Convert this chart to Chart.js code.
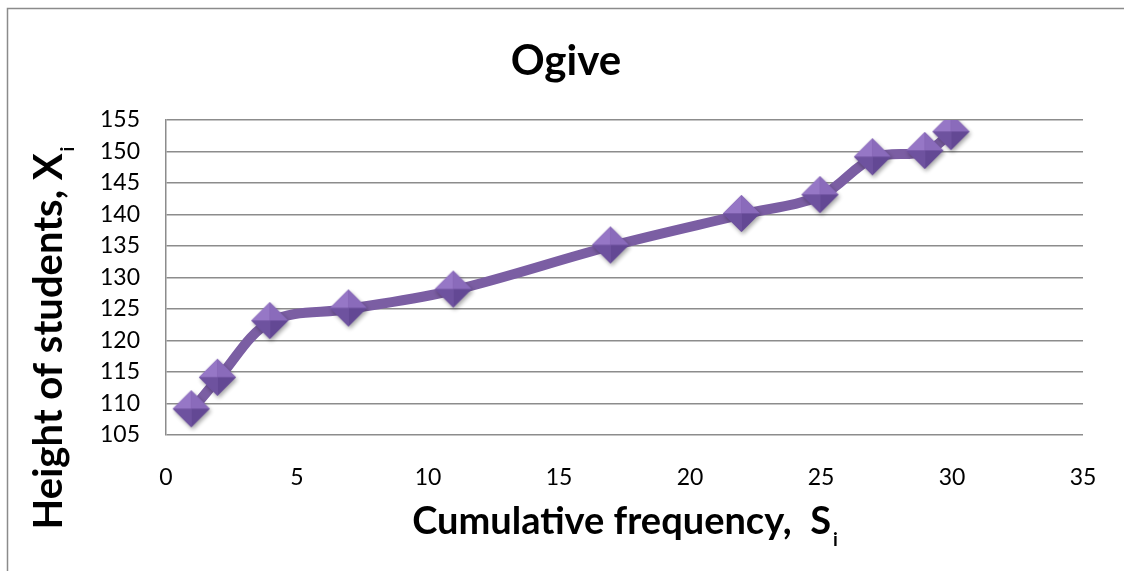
<!DOCTYPE html>
<html>
<head>
<meta charset="utf-8">
<script src="https://cdn.jsdelivr.net/npm/chart.js@4.4.1/dist/chart.umd.min.js"></script>
<style>
  html, body { margin: 0; padding: 0; background: #fff; }
  #wrap { width: 1124px; height: 571px; position: relative; }
</style>
</head>
<body>
<div id="wrap"><canvas id="c" width="1124" height="571"></canvas></div>
<script>
// ---- data ----
const cumFreq = [1, 2, 4, 7, 11, 17, 22, 25, 27, 29, 30];
const heights = [109, 114, 123, 125, 128, 135, 140, 143, 149, 150, 153];
const xTickValues = [0, 5, 10, 15, 20, 25, 30, 35];
const yTickValues = [105, 110, 115, 120, 125, 130, 135, 140, 145, 150, 155];
const chartTitle = 'Ogive';
const xTitle = ['Cumulative frequency,  S', 'i'];
const yTitle = ['Height of students, X', 'i'];

const FONT = 'Lato, Carlito, "Open Sans", sans-serif';
const GRID = '#8c8c8c';

// bevelled diamond marker
function makeDiamond(r) {
  const size = Math.ceil(r * 2 + 12);
  const cv = document.createElement('canvas');
  cv.width = size; cv.height = size;
  const g = cv.getContext('2d');
  const c = size / 2 - 1;
  const T = [c, c - r], R = [c + r, c], B = [c, c + r], L = [c - r, c], C = [c, c];
  g.save();
  g.shadowColor = 'rgba(0,0,0,0.35)';
  g.shadowBlur = 4; g.shadowOffsetX = 1.5; g.shadowOffsetY = 2.5;
  g.beginPath(); g.moveTo(...T); g.lineTo(...R); g.lineTo(...B); g.lineTo(...L); g.closePath();
  g.fillStyle = '#7a5ca8'; g.fill();
  g.restore();
  const face = (a, b, col) => { g.beginPath(); g.moveTo(...a); g.lineTo(...b); g.lineTo(...C); g.closePath(); g.fillStyle = col; g.fill(); };
  face(L, T, '#9677c6');
  face(T, R, '#8a6bbb');
  face(R, B, '#634894');
  face(B, L, '#6e529f');
  return cv;
}
const marker = makeDiamond(18.5);

function drawSubText(ctx, parts, size, subSize, subDrop) {
  ctx.font = 'bold ' + size + 'px ' + FONT;
  const w1 = ctx.measureText(parts[0]).width;
  ctx.font = 'bold ' + subSize + 'px ' + FONT;
  const w2 = ctx.measureText(parts[1]).width;
  const x0 = -(w1 + w2) / 2;
  ctx.textAlign = 'left'; ctx.textBaseline = 'alphabetic'; ctx.fillStyle = '#000';
  ctx.font = 'bold ' + size + 'px ' + FONT;
  ctx.fillText(parts[0], x0, 0);
  ctx.font = 'bold ' + subSize + 'px ' + FONT;
  ctx.fillText(parts[1], x0 + w1 + 2, subDrop);
}

const decor = {
  id: 'decor',
  beforeDraw(chart) {
    const ctx = chart.ctx;
    ctx.save();
    ctx.strokeStyle = '#8b8b8b'; ctx.lineWidth = 1.5;
    ctx.beginPath(); ctx.moveTo(7.5, 571); ctx.lineTo(7.5, 8.5); ctx.lineTo(1124, 8.5); ctx.stroke();
    ctx.restore();
  },
  afterDraw(chart) {
    const ctx = chart.ctx;
    ctx.save();
    ctx.fillStyle = '#000';
    ctx.font = 'bold 42px ' + FONT;
    ctx.textAlign = 'center'; ctx.textBaseline = 'alphabetic';
    ctx.fillText(chartTitle, 566, 75);
    ctx.restore();

    ctx.save();
    ctx.translate(624, 534);
    drawSubText(ctx, xTitle, 38, 19, 12);
    ctx.restore();

    ctx.save();
    ctx.translate(62, 339);
    ctx.rotate(-Math.PI / 2);
    drawSubText(ctx, yTitle, 40, 19, 12);
    ctx.restore();
  }
};

new Chart(document.getElementById('c'), {
  type: 'scatter',
  data: {
    datasets: [{
      data: cumFreq.map((x, i) => ({ x: x, y: heights[i] })),
      showLine: true,
      borderColor: '#7b5ea3',
      borderWidth: 10,
      tension: 0.35,
      pointStyle: marker,
      pointRadius: 18,
      pointHoverRadius: 18
    }]
  },
  options: {
    responsive: false,
    animation: false,
    events: [],
    layout: { padding: { top: 120, right: 41, left: 0, bottom: 0 } },
    plugins: { legend: { display: false }, tooltip: { enabled: false }, title: { display: false } },
    scales: {
      x: {
        type: 'linear', min: 0, max: 35,
        afterBuildTicks: s => { s.ticks = xTickValues.map(v => ({ value: v })); },
        afterFit: s => { s.height = 136; },
        grid: { display: false },
        border: { display: false },
        ticks: { color: '#000', font: { family: FONT, size: 23 }, padding: 21, maxRotation: 0 }
      },
      y: {
        type: 'linear', min: 105, max: 155,
        afterBuildTicks: s => { s.ticks = yTickValues.map(v => ({ value: v })); },
        afterFit: s => { s.width = 166; },
        grid: { color: GRID, lineWidth: 1.5, drawTicks: false },
        border: { display: true, color: GRID, width: 1.5 },
        ticks: { color: '#000', font: { family: FONT, size: 23 }, padding: 26 }
      }
    }
  },
  plugins: [decor]
});
</script>
</body>
</html>
